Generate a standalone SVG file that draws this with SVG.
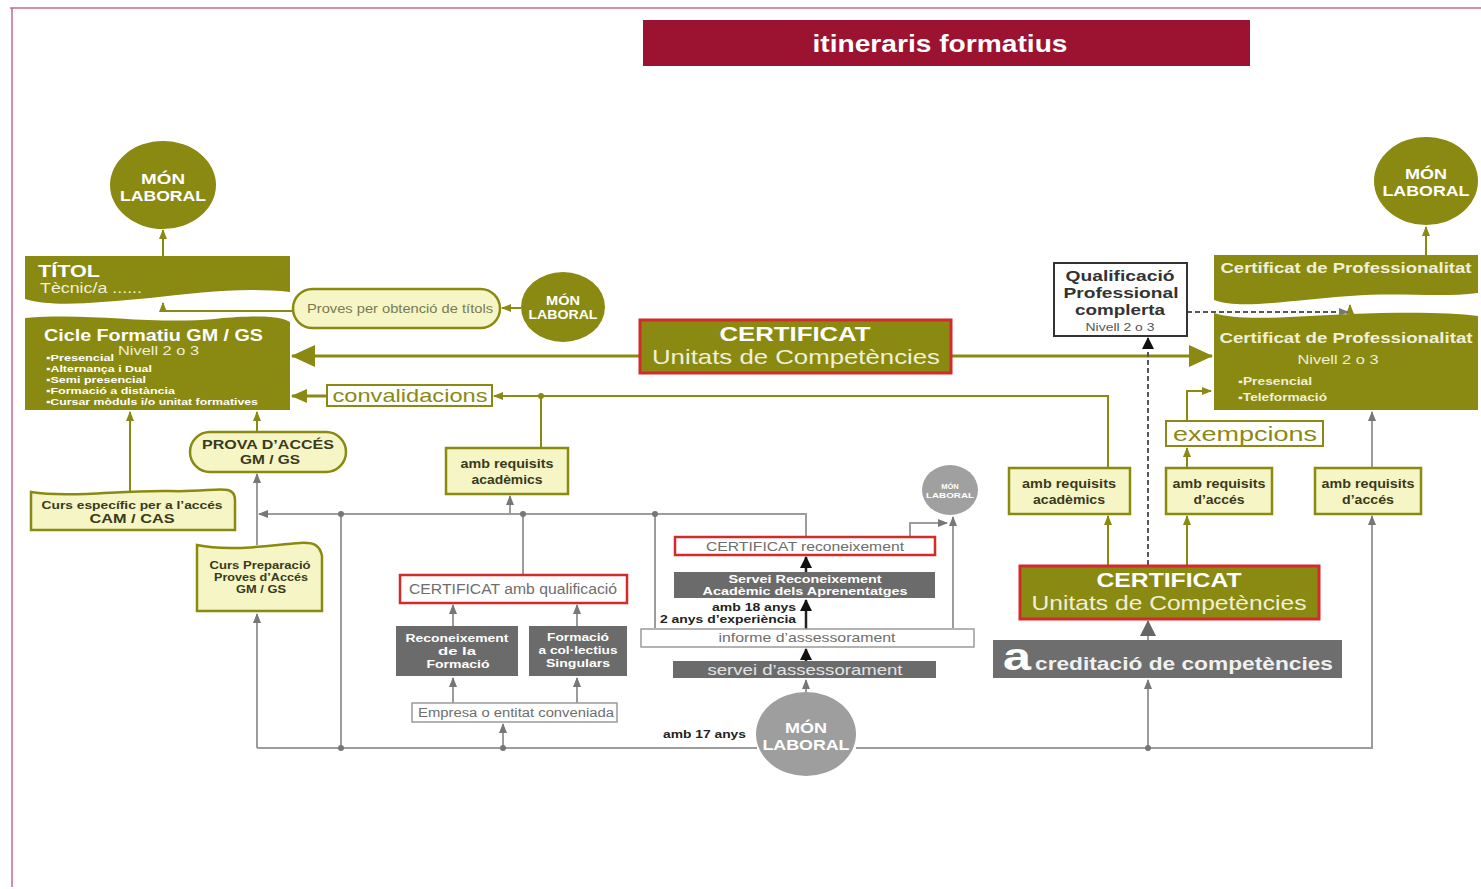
<svg xmlns="http://www.w3.org/2000/svg" width="1481" height="889" viewBox="0 0 1481 889">
<defs>
<style>
text{font-family:"Liberation Sans",Arial,sans-serif}
.ol{fill:#8a8a12}
.olr{fill:#8a8a12;stroke:#d42a2a;stroke-width:3}
.yel{fill:#f5f5c6;stroke:#8a8a12;stroke-width:2.5}
.dk{fill:#6b6b6b}
.wb{fill:#fff;stroke:#9a9a9a;stroke-width:1.5}
.rb{fill:#fff;stroke:#d42a2a;stroke-width:2.5}
.w{fill:#fff}
.lt{fill:#f0f0d8}
.b{font-weight:bold}
.c{text-anchor:middle}
.e{text-anchor:end}
.dt{fill:#3a3a1a}
.gt{fill:#6e6e6e}
.lo{stroke:#8a8a12;stroke-width:2;fill:none}
.lo3{stroke:#8a8a12;stroke-width:3;fill:none}
.lg{stroke:#9c9c9c;stroke-width:2;fill:none}
.lk{stroke:#222;stroke-width:2.5;fill:none}
.ld{stroke:#555;stroke-width:2;fill:none;stroke-dasharray:5 3}
.dot{fill:#777}
</style>
<marker id="mo" markerUnits="userSpaceOnUse" markerWidth="10" markerHeight="10" refX="9" refY="5" orient="auto"><path d="M0,1 L10,5 L0,9 z" fill="#8a8a12"/></marker>
<marker id="mO" markerUnits="userSpaceOnUse" markerWidth="24" markerHeight="22" refX="23" refY="11" orient="auto"><path d="M0,0 L24,11 L0,22 z" fill="#8a8a12"/></marker>
<marker id="mM" markerUnits="userSpaceOnUse" markerWidth="16" markerHeight="14" refX="15" refY="7" orient="auto"><path d="M0,0 L16,7 L0,14 z" fill="#8a8a12"/></marker>
<marker id="mg" markerUnits="userSpaceOnUse" markerWidth="10" markerHeight="10" refX="9" refY="5" orient="auto"><path d="M0,1 L10,5 L0,9 z" fill="#777"/></marker>
<marker id="mG" markerUnits="userSpaceOnUse" markerWidth="16" markerHeight="16" refX="15" refY="8" orient="auto"><path d="M0,0 L16,8 L0,16 z" fill="#666"/></marker>
<marker id="mb" markerUnits="userSpaceOnUse" markerWidth="12" markerHeight="12" refX="11" refY="6" orient="auto"><path d="M0,0 L12,6 L0,12 z" fill="#111"/></marker>
</defs>
<rect width="1481" height="889" fill="#fff"/>
<path d="M10,8 H1481 M12,8 V887" stroke="#c86a86" stroke-width="1.5" fill="none"/>

<g id="connectors">
<line class="lo" x1="163" y1="256" x2="163" y2="230" marker-end="url(#mo)"/>
<path class="lo" d="M293,311 H163 V303" marker-end="url(#mo)"/>
<line class="lo" x1="521" y1="308" x2="502" y2="308" marker-end="url(#mo)"/>
<line class="lo3" x1="640" y1="356" x2="292" y2="356" marker-end="url(#mO)"/>
<line class="lo3" x1="951" y1="356" x2="1212" y2="356" marker-end="url(#mO)"/>
<line class="lo3" x1="327" y1="396" x2="292" y2="396" marker-end="url(#mM)"/>
<path class="lo" d="M1108,468 V396 H494" marker-end="url(#mo)"/>
<line class="lo" x1="541" y1="448" x2="541" y2="396"/>
<line class="lo" x1="257" y1="432" x2="257" y2="412" marker-end="url(#mo)"/>
<line class="lo" x1="130" y1="491" x2="130" y2="412" marker-end="url(#mo)"/>
<line class="lo" x1="1108" y1="565" x2="1108" y2="516" marker-end="url(#mo)"/>
<line class="lo" x1="1187" y1="565" x2="1187" y2="516" marker-end="url(#mo)"/>
<line class="lo" x1="1187" y1="468" x2="1187" y2="448" marker-end="url(#mo)"/>
<path class="lo" d="M1187,421 V391 H1211" marker-end="url(#mo)"/>
<line class="lo" x1="1426" y1="255" x2="1426" y2="227" marker-end="url(#mo)" stroke="#b0b060"/>
<line class="lo" x1="1350" y1="312" x2="1350" y2="305" marker-end="url(#mo)"/>

<line class="lg" x1="257" y1="748" x2="257" y2="614" marker-end="url(#mg)"/>
<line class="lg" x1="257" y1="545" x2="257" y2="474" marker-end="url(#mg)" stroke="#888"/>
<path class="lg" d="M806,537 V514 H259" marker-end="url(#mg)"/>
<line class="lg" x1="510" y1="514" x2="510" y2="496" marker-end="url(#mg)"/>
<line class="lg" x1="523" y1="574" x2="523" y2="514"/>
<line class="lg" x1="341" y1="748" x2="341" y2="514"/>
<line class="lg" x1="655" y1="628" x2="655" y2="514"/>
<path class="lg" d="M910,537 V523 H947" marker-end="url(#mg)"/>
<line class="lg" x1="953" y1="628" x2="953" y2="517" marker-end="url(#mg)"/>
<path class="lg" d="M257,748 H757"/>
<path class="lg" d="M856,748 H1372 V516" marker-end="url(#mg)"/>
<line class="lg" x1="1372" y1="468" x2="1372" y2="412" marker-end="url(#mg)"/>
<line class="lg" x1="503" y1="748" x2="503" y2="724" marker-end="url(#mg)"/>
<line class="lg" x1="453" y1="703" x2="453" y2="678" marker-end="url(#mg)"/>
<line class="lg" x1="577" y1="703" x2="577" y2="678" marker-end="url(#mg)"/>
<line class="lg" x1="453" y1="626" x2="453" y2="605" marker-end="url(#mg)"/>
<line class="lg" x1="577" y1="626" x2="577" y2="605" marker-end="url(#mg)"/>
<line class="lg" x1="806" y1="693" x2="806" y2="680" marker-end="url(#mg)"/>
<line class="lg" x1="1148" y1="748" x2="1148" y2="680" marker-end="url(#mg)"/>
<line class="lg" x1="1148" y1="640" x2="1148" y2="621" marker-end="url(#mG)" stroke="#666" stroke-width="3"/>

<line class="lk" x1="806" y1="661" x2="806" y2="649" marker-end="url(#mb)"/>
<line class="lk" x1="806" y1="630" x2="806" y2="600" marker-end="url(#mb)"/>
<line class="lk" x1="806" y1="572" x2="806" y2="557" marker-end="url(#mb)"/>
<line class="ld" x1="1148" y1="565" x2="1148" y2="338" marker-end="url(#mb)"/>
<line class="ld" x1="1187" y1="312" x2="1348" y2="312" marker-end="url(#mg)"/>

<circle class="dot" cx="341" cy="514" r="3"/>
<circle class="dot" cx="523" cy="514" r="3"/>
<circle class="dot" cx="655" cy="514" r="3"/>
<circle class="dot" cx="341" cy="748" r="3"/>
<circle class="dot" cx="503" cy="748" r="3"/>
<circle class="dot" cx="1148" cy="748" r="3"/>
<circle cx="541" cy="396" r="3" fill="#8a8a12"/>
</g>

<g id="title">
<rect x="643" y="20" width="607" height="46" fill="#9c1231"/>
<text x="940" y="52" class="w b c" font-size="24" textLength="255" lengthAdjust="spacingAndGlyphs">itineraris formatius</text>
</g>

<g id="mon-laboral-left">
<ellipse cx="163" cy="185" rx="53" ry="44" class="ol"/>
<text x="163" y="184" class="w b c" font-size="15" textLength="44" lengthAdjust="spacingAndGlyphs">MÓN</text>
<text x="163" y="201" class="w b c" font-size="15" textLength="86" lengthAdjust="spacingAndGlyphs">LABORAL</text>
</g>

<g id="titol">
<path class="ol" d="M25,256 H290 V292 C240,287 200,293 150,298 C100,302 55,308 25,299 Z"/>
<text x="38" y="277" class="w b" font-size="17" textLength="62" lengthAdjust="spacingAndGlyphs">TÍTOL</text>
<text x="40" y="293" class="lt" font-size="14" textLength="102" lengthAdjust="spacingAndGlyphs">Tècnic/a ......</text>
</g>

<g id="cicle">
<path class="ol" d="M25,318 C90,312 150,325 215,319 C255,315 280,316 290,322 V410 H25 Z"/>
<text x="44" y="341" class="w b" font-size="16" textLength="219" lengthAdjust="spacingAndGlyphs">Cicle Formatiu GM / GS</text>
<text x="118" y="355" class="lt" font-size="13" textLength="81" lengthAdjust="spacingAndGlyphs">Nivell 2 o 3</text>
<text x="46" y="361" class="w b" font-size="9.5" textLength="68" lengthAdjust="spacingAndGlyphs">▪Presencial</text>
<text x="46" y="372" class="w b" font-size="9.5" textLength="106" lengthAdjust="spacingAndGlyphs">▪Alternança i Dual</text>
<text x="46" y="383" class="w b" font-size="9.5" textLength="100" lengthAdjust="spacingAndGlyphs">▪Semi presencial</text>
<text x="46" y="394" class="w b" font-size="9.5" textLength="129" lengthAdjust="spacingAndGlyphs">▪Formació a distància</text>
<text x="46" y="405" class="w b" font-size="9.5" textLength="212" lengthAdjust="spacingAndGlyphs">▪Cursar mòduls i/o unitat formatives</text>
</g>

<g id="proves-titols">
<rect x="293" y="289" width="207" height="39" rx="19.5" class="yel"/>
<text x="400" y="313" class="c" font-size="12" fill="#7a7a52" textLength="186" lengthAdjust="spacingAndGlyphs">Proves per obtenció de títols</text>
</g>

<g id="mon-laboral-mid">
<ellipse cx="563" cy="307" rx="42" ry="35" class="ol"/>
<text x="563" y="305" class="w b c" font-size="12" textLength="34" lengthAdjust="spacingAndGlyphs">MÓN</text>
<text x="563" y="319" class="w b c" font-size="12" textLength="69" lengthAdjust="spacingAndGlyphs">LABORAL</text>
</g>

<g id="certificat-uc-center">
<rect x="640" y="320" width="311" height="53" class="olr"/>
<text x="795" y="341" class="w b c" font-size="21" textLength="151" lengthAdjust="spacingAndGlyphs">CERTIFICAT</text>
<text x="796" y="364" class="lt c" font-size="21" textLength="288" lengthAdjust="spacingAndGlyphs">Unitats de Competències</text>
</g>

<g id="convalidacions">
<rect x="327" y="385" width="165" height="21" fill="#fff" stroke="#8a8a12" stroke-width="2"/>
<text x="410" y="402" class="c" font-size="19" fill="#8a8a12" textLength="155" lengthAdjust="spacingAndGlyphs">convalidacions</text>
</g>

<g id="prova-acces">
<rect x="190" y="432" width="156" height="40" rx="20" class="yel"/>
<text x="268" y="449" class="dt b c" font-size="13" textLength="132" lengthAdjust="spacingAndGlyphs">PROVA D’ACCÉS</text>
<text x="270" y="464" class="dt b c" font-size="13" textLength="60" lengthAdjust="spacingAndGlyphs">GM / GS</text>
</g>

<g id="curs-especific">
<path class="yel" d="M31,492 C70,498 120,490 170,491 C200,492 218,488 228,490 Q235,492 235,500 V530 H31 Z"/>
<text x="132" y="509" class="dt b c" font-size="11" textLength="181" lengthAdjust="spacingAndGlyphs">Curs específic per a l’accés</text>
<text x="132" y="523" class="dt b c" font-size="12" textLength="85" lengthAdjust="spacingAndGlyphs">CAM / CAS</text>
</g>

<g id="curs-preparacio">
<path class="yel" d="M197,545 C230,552 270,545 300,543 C315,542 320,546 322,556 V611 H197 Z"/>
<text x="260" y="569" class="dt b c" font-size="11" textLength="101" lengthAdjust="spacingAndGlyphs">Curs Preparació</text>
<text x="261" y="581" class="dt b c" font-size="11" textLength="94" lengthAdjust="spacingAndGlyphs">Proves d’Accés</text>
<text x="261" y="593" class="dt b c" font-size="11" textLength="50" lengthAdjust="spacingAndGlyphs">GM / GS</text>
</g>

<g id="amb-req-acad-center">
<rect x="446" y="448" width="122" height="46" class="yel"/>
<text x="507" y="468" class="dt b c" font-size="12" textLength="93" lengthAdjust="spacingAndGlyphs">amb requisits</text>
<text x="507" y="484" class="dt b c" font-size="12" textLength="71" lengthAdjust="spacingAndGlyphs">acadèmics</text>
</g>

<g id="certificat-qualificacio">
<rect x="400" y="575" width="227" height="28" class="rb"/>
<text x="513" y="594" class="gt c" font-size="14" textLength="208" lengthAdjust="spacingAndGlyphs">CERTIFICAT amb qualificació</text>
</g>

<g id="reconeixement-formacio">
<rect x="396" y="626" width="122" height="50" class="dk"/>
<text x="457" y="642" class="w b c" font-size="11" textLength="103" lengthAdjust="spacingAndGlyphs">Reconeixement</text>
<text x="457" y="655" class="w b c" font-size="11" textLength="38" lengthAdjust="spacingAndGlyphs">de la</text>
<text x="458" y="668" class="w b c" font-size="11" textLength="63" lengthAdjust="spacingAndGlyphs">Formació</text>
</g>

<g id="formacio-collectius">
<rect x="529" y="626" width="98" height="50" class="dk"/>
<text x="578" y="641" class="w b c" font-size="11" textLength="62" lengthAdjust="spacingAndGlyphs">Formació</text>
<text x="578" y="654" class="w b c" font-size="11" textLength="79" lengthAdjust="spacingAndGlyphs">a col·lectius</text>
<text x="578" y="667" class="w b c" font-size="11" textLength="64" lengthAdjust="spacingAndGlyphs">Singulars</text>
</g>

<g id="empresa">
<rect x="412" y="703" width="205" height="19" class="wb"/>
<text x="516" y="717" class="gt c" font-size="12" textLength="196" lengthAdjust="spacingAndGlyphs">Empresa o entitat conveniada</text>
</g>

<g id="mon-laboral-small">
<ellipse cx="950" cy="490" rx="28" ry="25" fill="#a0a0a0"/>
<text x="950" y="489" class="w b c" font-size="7.5">MÓN</text>
<text x="950" y="498" class="w b c" font-size="7.5" textLength="48" lengthAdjust="spacingAndGlyphs">LABORAL</text>
</g>

<g id="certificat-reconeixement">
<rect x="675" y="537" width="260" height="18" class="rb"/>
<text x="805" y="551" class="gt c" font-size="13" textLength="198" lengthAdjust="spacingAndGlyphs">CERTIFICAT reconeixement</text>
</g>

<g id="servei-reconeixement">
<rect x="674" y="572" width="261" height="26" class="dk"/>
<text x="805" y="583" class="w b c" font-size="11" textLength="153" lengthAdjust="spacingAndGlyphs">Servei Reconeixement</text>
<text x="805" y="595" class="w b c" font-size="11" textLength="205" lengthAdjust="spacingAndGlyphs">Acadèmic dels Aprenentatges</text>
</g>

<g id="label-18">
<text x="796" y="611" class="b e" font-size="11" fill="#222" textLength="84" lengthAdjust="spacingAndGlyphs">amb 18 anys</text>
<text x="796" y="623" class="b e" font-size="11" fill="#222" textLength="136" lengthAdjust="spacingAndGlyphs">2 anys d’experiència</text>
</g>

<g id="informe">
<rect x="641" y="629" width="333" height="18" class="wb"/>
<text x="807" y="642" class="gt c" font-size="13" textLength="177" lengthAdjust="spacingAndGlyphs">informe d’assessorament</text>
</g>

<g id="servei-assessorament">
<rect x="673" y="661" width="263" height="17" class="dk"/>
<text x="805" y="675" class="c" font-size="15" fill="#e4e4e4" textLength="195" lengthAdjust="spacingAndGlyphs">servei d’assessorament</text>
</g>

<g id="mon-laboral-bottom">
<ellipse cx="806" cy="734" rx="50" ry="42" fill="#9e9e9e"/>
<text x="806" y="733" class="w b c" font-size="15" textLength="42" lengthAdjust="spacingAndGlyphs">MÓN</text>
<text x="806" y="750" class="w b c" font-size="15" textLength="87" lengthAdjust="spacingAndGlyphs">LABORAL</text>
</g>

<g id="label-17">
<text x="746" y="738" class="b e" font-size="11" fill="#222" textLength="83" lengthAdjust="spacingAndGlyphs">amb 17 anys</text>
</g>

<g id="mon-laboral-right">
<ellipse cx="1426" cy="181" rx="52" ry="44" class="ol"/>
<text x="1426" y="179" class="w b c" font-size="15" textLength="42" lengthAdjust="spacingAndGlyphs">MÓN</text>
<text x="1426" y="196" class="w b c" font-size="15" textLength="87" lengthAdjust="spacingAndGlyphs">LABORAL</text>
</g>

<g id="cert-prof-top">
<path class="ol" d="M1214,255 H1478 V293 C1440,298 1400,292 1350,296 C1290,300 1240,310 1214,300 Z"/>
<text x="1346" y="273" class="lt b c" font-size="14" textLength="251" lengthAdjust="spacingAndGlyphs">Certificat de Professionalitat</text>
</g>

<g id="cert-prof">
<path class="ol" d="M1214,313 C1240,322 1300,316 1350,314 C1400,312 1450,312 1478,316 V410 H1214 Z"/>
<text x="1346" y="343" class="lt b c" font-size="14" textLength="253" lengthAdjust="spacingAndGlyphs">Certificat de Professionalitat</text>
<text x="1338" y="364" class="lt c" font-size="13" textLength="81" lengthAdjust="spacingAndGlyphs">Nivell 2 o 3</text>
<text x="1238" y="385" class="lt b" font-size="10" textLength="74" lengthAdjust="spacingAndGlyphs">▪Presencial</text>
<text x="1238" y="401" class="lt b" font-size="10" textLength="89" lengthAdjust="spacingAndGlyphs">▪Teleformació</text>
</g>

<g id="qualificacio">
<rect x="1054" y="263" width="133" height="73" fill="#fff" stroke="#333" stroke-width="2"/>
<text x="1120" y="281" class="b c" font-size="15" fill="#333" textLength="109" lengthAdjust="spacingAndGlyphs">Qualificació</text>
<text x="1121" y="298" class="b c" font-size="15" fill="#333" textLength="115" lengthAdjust="spacingAndGlyphs">Professional</text>
<text x="1120" y="315" class="b c" font-size="15" fill="#333" textLength="90" lengthAdjust="spacingAndGlyphs">complerta</text>
<text x="1120" y="331" class="c" font-size="11" fill="#555" textLength="69" lengthAdjust="spacingAndGlyphs">Nivell 2 o 3</text>
</g>

<g id="exempcions">
<rect x="1166" y="421" width="157" height="25" fill="#fff" stroke="#8a8a12" stroke-width="2"/>
<text x="1245" y="441" class="c" font-size="21" fill="#8a8a12" textLength="144" lengthAdjust="spacingAndGlyphs">exempcions</text>
</g>

<g id="amb-req-acad-right">
<rect x="1009" y="468" width="121" height="46" class="yel"/>
<text x="1069" y="488" class="dt b c" font-size="12" textLength="94" lengthAdjust="spacingAndGlyphs">amb requisits</text>
<text x="1069" y="504" class="dt b c" font-size="12" textLength="72" lengthAdjust="spacingAndGlyphs">acadèmics</text>
</g>

<g id="amb-req-acces-1">
<rect x="1166" y="468" width="106" height="46" class="yel"/>
<text x="1219" y="488" class="dt b c" font-size="12" textLength="93" lengthAdjust="spacingAndGlyphs">amb requisits</text>
<text x="1219" y="504" class="dt b c" font-size="12" textLength="51" lengthAdjust="spacingAndGlyphs">d’accés</text>
</g>

<g id="amb-req-acces-2">
<rect x="1315" y="468" width="106" height="46" class="yel"/>
<text x="1368" y="488" class="dt b c" font-size="12" textLength="93" lengthAdjust="spacingAndGlyphs">amb requisits</text>
<text x="1368" y="504" class="dt b c" font-size="12" textLength="52" lengthAdjust="spacingAndGlyphs">d’accés</text>
</g>

<g id="certificat-uc-right">
<rect x="1020" y="566" width="299" height="53" class="olr"/>
<text x="1169" y="587" class="w b c" font-size="21" textLength="145" lengthAdjust="spacingAndGlyphs">CERTIFICAT</text>
<text x="1169" y="610" class="lt c" font-size="21" textLength="275" lengthAdjust="spacingAndGlyphs">Unitats de Competències</text>
</g>

<g id="acreditacio">
<rect x="993" y="640" width="349" height="38" fill="#6e6e6e"/>
<text x="1003" y="670" class="w b" font-size="38" textLength="28" lengthAdjust="spacingAndGlyphs">a</text>
<text x="1035" y="670" class="b" font-size="18" fill="#f0f0f0" textLength="298" lengthAdjust="spacingAndGlyphs">creditació de competències</text>
</g>
</svg>
